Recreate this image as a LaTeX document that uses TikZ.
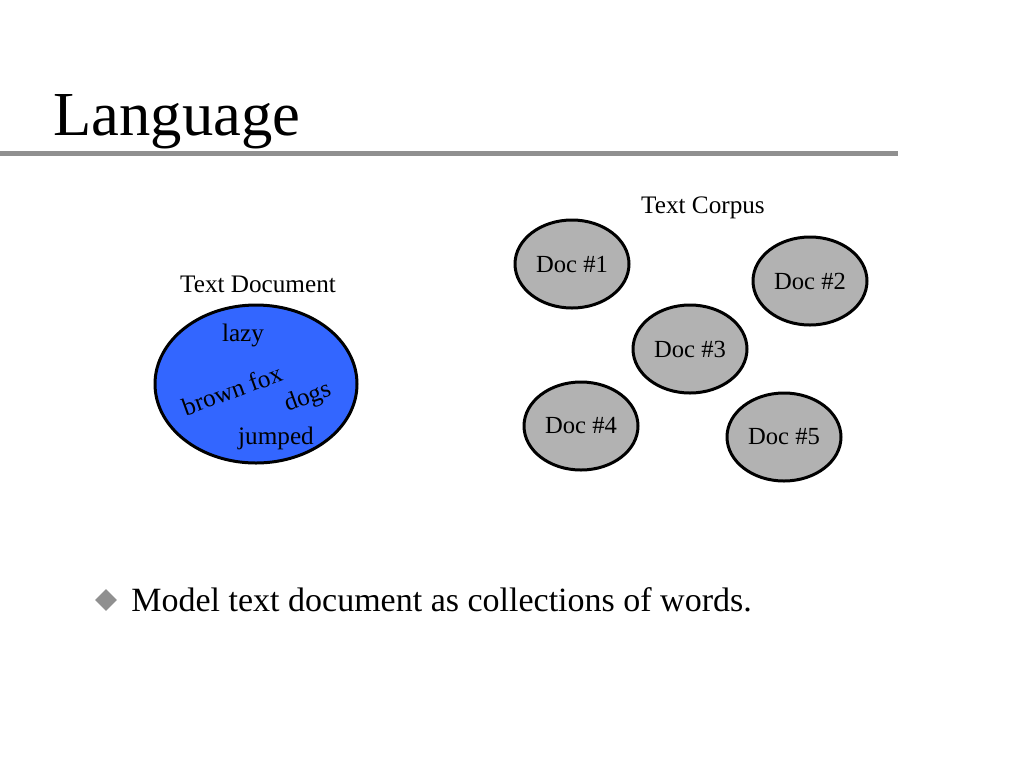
\documentclass[tikz,border=0pt]{standalone}
\usepackage{fontspec}
\setmainfont{Liberation Serif}
\usetikzlibrary{shapes.geometric}
\definecolor{docblue}{HTML}{3366FF}
\definecolor{docgray}{HTML}{B2B2B2}
\definecolor{rulegray}{HTML}{909090}
\begin{document}
\begin{tikzpicture}[x=0.5pt,y=-0.5pt,
    corpus/.style={ellipse,draw,line width=1.5pt,fill=docgray,
      minimum width=57pt,minimum height=44pt,inner sep=0pt,font=\fontsize{12.3}{14}\selectfont},
    word/.style={inner sep=0pt,font=\fontsize{12.6}{14}\selectfont},
    caption/.style={inner sep=0pt,font=\fontsize{12.6}{14}\selectfont}
    ]
    \useasboundingbox (0,0) rectangle (1024,768);
    % title and rule
    \node[anchor=base west,inner sep=0pt,font=\fontsize{31.3}{36}\selectfont] (title) at (53,135) {Language};
    \coordinate (ruleL) at (0,153);
    \coordinate (ruleR) at (898,153);
    \draw[rulegray,line width=2.5pt] (ruleL) -- (ruleR);
    % text document
    \node[caption] (tdoc) at (258,284) {Text Document};
    \node[ellipse,draw,line width=1.5pt,fill=docblue,minimum width=101pt,
      minimum height=79pt,inner sep=0pt] (doc) at (256,384) {};
    \node[word] (lazy) at (243,335) {lazy};
    \node[word,rotate=20] (fox) at (232,390) {brown fox};
    \node[word,rotate=20] (dogs) at (308,398) {dogs};
    \node[word] (jumped) at (276,438) {jumped};
    % text corpus
    \node[caption] (tcorp) at (703,208) {Text Corpus};
    \node[corpus] (d1) at (572,264) {Doc \#1};
    \node[corpus] (d2) at (810,281) {Doc \#2};
    \node[corpus] (d3) at (690,349) {Doc \#3};
    \node[corpus] (d4) at (581,426) {Doc \#4};
    \node[corpus] (d5) at (784,437) {Doc \#5};
    % bullet
    \node[diamond,fill=rulegray,minimum size=11pt,inner sep=0pt] (bul) at (106,600) {};
    \node[anchor=base west,inner sep=0pt,font=\fontsize{17}{21}\selectfont] (point) at (131,611)
      {Model text document as collections of words.};
\end{tikzpicture}
\end{document}
